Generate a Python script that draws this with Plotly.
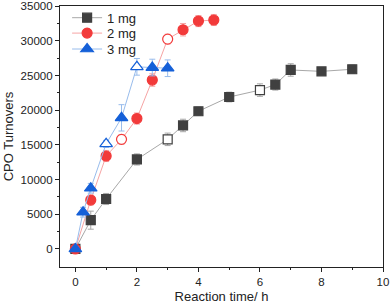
import plotly.graph_objects as go

# 1 mg
t1 = [0, 0.5, 1, 2, 3, 3.5, 4, 5, 6, 6.5, 7, 8, 9]
y1 = [0, 4150, 7200, 12900, 15800, 17800, 19850, 21900, 22900, 23700, 25800, 25600, 25900]
e1 = [300, 1300, 800, 800, 900, 900, 600, 700, 900, 800, 900, 500, 600]
open1 = [False, False, False, False, True, False, False, False, True, False, False, False, False]

# 2 mg
t2 = [0, 0.5, 1, 1.5, 2, 2.5, 3, 3.5, 4, 4.5]
y2 = [0, 7050, 13400, 15800, 18800, 24350, 30250, 31600, 32850, 33000]
e2 = [300, 700, 800, 700, 800, 900, 700, 900, 800, 800]
open2 = [False, False, False, True, False, False, True, False, False, False]

# 3 mg
t3 = [0, 0.25, 0.5, 1, 1.5, 2, 2.5, 3]
y3 = [0, 5300, 8750, 15150, 18900, 26250, 26150, 26050]
e3 = [300, 700, 700, 500, 1900, 1200, 1200, 1200]
open3 = [False, False, False, True, False, True, False, False]

xticks = [0, 2, 4, 6, 8, 10]
yticks = [0, 5000, 10000, 15000, 20000, 25000, 30000, 35000]

series = [
    ("1 mg", t1, y1, e1, open1, "#404040", "#a8a8a8", "square", 9, "legend"),
    ("2 mg", t2, y2, e2, open2, "#f23a3a", "#f6a4a4", "circle", 10, "legend2"),
    ("3 mg", t3, y3, e3, open3, "#1560d8", "#98bcec", "triangle-up", 11, "legend3"),
]

fig = go.Figure()
for name, t, y, e, op, mc, lc, sym, sz, lg in series:
    fills = ["white" if o else mc for o in op]
    fig.add_trace(go.Scatter(
        x=t, y=y, name=name, mode="lines+markers", legend=lg,
        line=dict(color=lc, width=1),
        marker=dict(symbol=sym, size=sz, color=fills, line=dict(color=mc, width=1.2)),
        error_y=dict(type="data", array=e, visible=True, color=lc, thickness=1, width=3),
    ))

leg_common = dict(x=0.022, xanchor="left", yanchor="middle", bgcolor="rgba(0,0,0,0)",
                  font=dict(size=13, color="#222"), itemwidth=30)

fig.update_layout(
    width=392, height=308,
    margin=dict(l=60, r=9, t=6, b=41, autoexpand=False),
    paper_bgcolor="white", plot_bgcolor="white",
    font=dict(family="Liberation Sans, Arial, sans-serif", color="#222", size=11.5),
    showlegend=True,
    legend=dict(y=0.955, **leg_common),
    legend2=dict(y=0.896, **leg_common),
    legend3=dict(y=0.835, **leg_common),
    xaxis=dict(
        range=[-0.5, 10], tickvals=xticks, ticktext=[str(v) for v in xticks],
        title=dict(text="Reaction time/ h", font=dict(size=13), standoff=4),
        automargin=False,
        showline=True, linecolor="#222", linewidth=1.2, mirror=True, ticks="outside", ticklen=4,
        tickcolor="#222", showgrid=False, zeroline=False,
        minor=dict(tickvals=[1, 3, 5, 7, 9], ticks="outside", ticklen=2, tickcolor="#222"),
    ),
    yaxis=dict(
        range=[-2600, 35020], tickvals=yticks, ticktext=[str(v) for v in yticks],
        title=dict(text="CPO Turnovers", font=dict(size=13), standoff=4),
        automargin=False,
        showline=True, linecolor="#222", linewidth=1.2, mirror=True, ticks="outside", ticklen=4,
        tickcolor="#222", showgrid=False, zeroline=False,
        minor=dict(tickvals=[2500, 7500, 12500, 17500, 22500, 27500, 32500], ticks="outside", ticklen=2, tickcolor="#222"),
    ),
)

fig.write_html("out.html", config={"displayModeBar": False},
               post_script="document.body.style.margin='0';document.body.style.overflow='hidden';")
